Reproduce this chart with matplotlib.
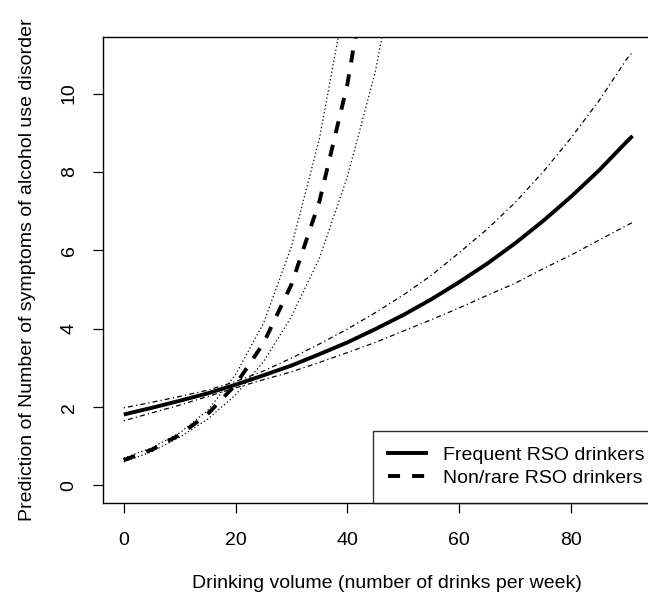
import numpy as np
import matplotlib
matplotlib.use("Agg")
import matplotlib.pyplot as plt
from matplotlib.lines import Line2D

plt.rcParams['font.family'] = ['Liberation Sans', 'DejaVu Sans']

# frequent RSO drinkers: prediction and confidence band
freq_x = [0, 5, 10, 15, 20, 25, 30, 35, 40, 45, 50, 55, 60, 65, 70, 75, 80, 85, 90, 91]
freq_fit = [1.81, 1.98, 2.16, 2.35, 2.57, 2.81, 3.06, 3.35, 3.65, 3.99,
            4.35, 4.75, 5.19, 5.66, 6.18, 6.75, 7.37, 8.04, 8.78, 8.92]
freq_hi = [1.98, 2.12, 2.27, 2.43, 2.65, 2.92, 3.25, 3.61, 3.99, 4.41,
           4.86, 5.36, 5.94, 6.54, 7.22, 8.00, 8.87, 9.82, 10.89, 11.06]
freq_lo = [1.65, 1.85, 2.05, 2.27, 2.49, 2.70, 2.90, 3.14, 3.39, 3.65,
           3.94, 4.23, 4.53, 4.85, 5.16, 5.53, 5.88, 6.26, 6.64, 6.71]

# non/rare RSO drinkers (goes off the top of the plot)
rare_x = [0, 5, 10, 15, 20, 25, 30, 35, 40, 45, 50]
rare_fit = [0.645, 0.91, 1.29, 1.82, 2.57, 3.63, 5.13, 7.25, 10.24, 14.47, 20.44]
rare_hi = [0.70, 0.96, 1.34, 1.91, 2.83, 4.14, 6.10, 8.85, 12.70, 18.2, 26.2]
rare_lo = [0.60, 0.86, 1.23, 1.69, 2.31, 3.16, 4.31, 5.80, 7.88, 10.56, 14.3]

fig = plt.figure(figsize=(6.48, 5.96), dpi=100)
# right edge of the plot box lies past the (cropped) image border
ax = fig.add_axes([0.1585, 0.1566, 0.876, 0.781])

ax.plot(freq_x, freq_fit, color='black', lw=2.8, solid_capstyle='butt')
ax.plot(freq_x, freq_hi, color='black', lw=0.9, dashes=(1, 2.5, 4, 2.5))
ax.plot(freq_x, freq_lo, color='black', lw=0.9, dashes=(1, 2.5, 4, 2.5))

ax.plot(rare_x, rare_fit, color='black', lw=2.8, dashes=(3.1, 3.1))
ax.plot(rare_x, rare_hi, color='black', lw=0.9, dashes=(1, 2))
ax.plot(rare_x, rare_lo, color='black', lw=0.9, dashes=(1, 2))

ax.set_xlim(-3.76, 97.76)
ax.set_ylim(-0.44, 11.44)
ax.set_xticks([0, 20, 40, 60, 80])
ax.set_yticks([0, 2, 4, 6, 8, 10])
ax.tick_params(direction='out', length=7, width=0.9, labelsize=14)
ax.tick_params(axis='x', pad=14)
ax.tick_params(axis='y', pad=11)
for lab in ax.get_yticklabels():
    lab.set_rotation(90)
    lab.set_va('center')
for s in ax.spines.values():
    s.set_linewidth(1.0)

ax.set_xlabel('Drinking volume (number of drinks per week)', fontsize=14, labelpad=19)
ax.set_ylabel('Prediction of Number of symptoms of alcohol use disorder', fontsize=14, labelpad=18)

handles = [Line2D([], [], color='black', lw=2.8),
           Line2D([], [], color='black', lw=2.8, dashes=(3.1, 3.1))]
leg = ax.legend(handles, ['Frequent RSO drinkers', 'Non/rare RSO drinkers'],
                loc='lower left', bbox_to_anchor=(0.4755, 0), borderaxespad=0,
                fontsize=14, frameon=True, fancybox=False, handlelength=1.96,
                handletextpad=0.85, labelspacing=0.28, borderpad=0.8)
leg.get_frame().set_edgecolor('black')
leg.get_frame().set_linewidth(1.0)

fig.savefig('out.png', dpi=100)
